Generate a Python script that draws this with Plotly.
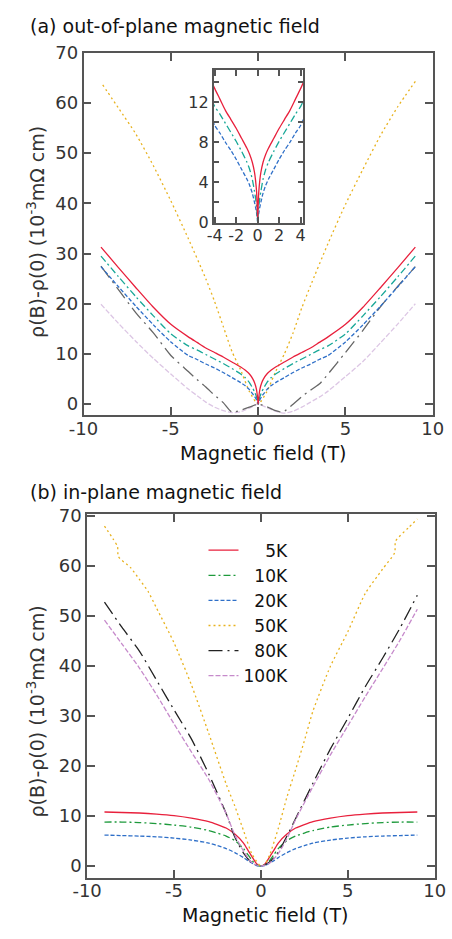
import plotly.graph_objects as go

# ---------------- Panel (a): out-of-plane field ----------------
B_a = [-9, -8, -7, -6, -5, -4, -3.5, -3, -2.5, -2, -1.5, -1, -0.75, -0.5, -0.3, -0.2, -0.1, -0.05, 0,
       0.05, 0.1, 0.2, 0.3, 0.5, 0.75, 1, 1.5, 2, 2.5, 3, 3.5, 4, 5, 6, 7, 8, 9]
a_5K = [31.3, 27.2, 23.2, 19.3, 15.9, 13.4, 12.3, 11.2, 10.3, 9.4, 8.4, 7.4, 6.8, 6.0, 5.0, 4.2, 3.0, 1.8, 0,
        1.8, 3.0, 4.2, 5.0, 6.0, 6.8, 7.4, 8.4, 9.4, 10.3, 11.2, 12.3, 13.4, 15.9, 19.3, 23.2, 27.2, 31.3]
a_10K = [29.5, 25.4, 21.4, 17.6, 14.0, 11.6, 10.8, 9.9, 9.0, 8.1, 7.1, 6.0, 5.3, 4.3, 3.1, 2.4, 1.5, 0.8, 0,
         0.8, 1.5, 2.4, 3.1, 4.3, 5.3, 6.0, 7.1, 8.1, 9.0, 9.9, 10.8, 11.6, 14.0, 17.6, 21.4, 25.4, 29.5]
a_20K = [27.4, 23.4, 19.5, 15.8, 12.4, 9.7, 8.9, 8.0, 7.2, 6.3, 5.3, 4.3, 3.7, 2.9, 2.0, 1.5, 0.9, 0.5, 0,
         0.5, 0.9, 1.5, 2.0, 2.9, 3.7, 4.3, 5.3, 6.3, 7.2, 8.0, 8.9, 9.7, 12.4, 15.8, 19.5, 23.4, 27.4]

B_a50 = [-8.9, -8, -7, -6, -5, -4, -3, -2.5, -2, -1.5, -1, -0.5, 0, 0.5, 1, 1.5, 2, 2.5, 3, 4, 5, 6, 7, 8, 9]
a_50K = [63.6, 59.0, 53.8, 47.5, 40.5, 33.0, 25.0, 20.5, 15.5, 10.5, 6.8, 2.5, 0,
         2.5, 6.5, 10.0, 14.2, 19.2, 23.6, 32.0, 39.8, 46.8, 53.5, 59.3, 64.3]

B_a80 = [-9, -8, -7, -6, -5, -4, -3.5, -3, -2.5, -2, -1.5, -1, -0.5, 0, 0.5, 1, 1.4, 2, 2.5, 3, 3.5, 4, 5, 6, 7, 8, 9]
a_80K = [27.5, 22.8, 18.2, 14.2, 9.7, 6.5, 4.9, 3.4, 1.8, 0.3, -1.6, -1.2, -0.6, 0,
         -0.5, -1.3, -1.6, 0.0, 1.5, 2.8, 4.0, 6.0, 10.3, 14.7, 19.4, 23.5, 27.4]

B_a100 = [-9, -8, -7, -6, -5, -4, -3.5, -3, -2.5, -2, -1.5, -1, -0.5, 0, 0.5, 1, 1.5, 2, 2.5, 3, 3.5, 4, 5, 6, 7, 8, 9]
a_100K = [19.9, 16.1, 12.5, 9.1, 6.0, 3.0, 1.7, 0.4, -0.6, -1.3, -1.7, -1.5, -0.8, 0,
          -0.7, -1.4, -1.8, -1.4, -0.6, 0.4, 1.4, 2.6, 5.5, 8.5, 12.2, 16.0, 20.0]

# ---------------- Panel (b): in-plane field ----------------
B_b = [-9, -8, -7, -6, -5, -4, -3, -2.5, -2, -1.5, -1, -0.75, -0.5, -0.25, 0,
       0.25, 0.5, 0.75, 1, 1.5, 2, 2.5, 3, 4, 5, 6, 7, 8, 9]
b_5K = [10.8, 10.7, 10.6, 10.4, 10.1, 9.6, 8.9, 8.3, 7.6, 6.4, 4.6, 3.2, 1.8, 0.5, 0,
        0.5, 1.8, 3.2, 4.6, 6.4, 7.6, 8.3, 8.9, 9.6, 10.1, 10.4, 10.6, 10.7, 10.8]
b_10K = [8.8, 8.8, 8.7, 8.5, 8.2, 7.8, 7.1, 6.6, 6.0, 5.1, 3.5, 2.3, 1.1, 0.2, 0,
         0.2, 1.1, 2.3, 3.5, 5.1, 6.0, 6.6, 7.1, 7.8, 8.2, 8.5, 8.7, 8.8, 8.8]
b_20K = [6.2, 6.1, 6.0, 5.85, 5.6, 5.2, 4.6, 4.1, 3.5, 2.7, 1.7, 1.1, 0.6, 0.1, 0,
         0.1, 0.6, 1.1, 1.7, 2.7, 3.5, 4.1, 4.6, 5.2, 5.6, 5.85, 6.0, 6.1, 6.2]

B_b50 = [-9, -8.5, -8.25, -8.2, -7.5, -7, -6.5, -6, -5, -4, -3, -2, -1.5, -1, -0.5, 0,
         0.25, 0.5, 1, 1.5, 2, 2.5, 3, 4, 5, 6, 7, 7.7, 7.75, 8.5, 9]
b_50K = [67.9, 65.3, 63.8, 61.8, 59.6, 57.3, 54.9, 51.5, 44.6, 36.2, 26.5, 16.4, 12.0, 7.1, 2.3, 0,
         0.5, 2.2, 7.5, 13.8, 19.3, 25.0, 31.0, 39.9, 46.8, 54.4, 59.3, 62.6, 64.9, 67.6, 69.3]

B_b80 = [-9, -8, -7, -6, -5, -4, -3, -2, -1.5, -1, -0.5, 0, 0.5, 1, 1.5, 2, 3, 4, 5, 6, 7, 8, 9]
b_80K = [52.7, 47.7, 43.0, 37.1, 31.2, 25.4, 18.4, 10.5, 5.8, 2.6, 0.6, 0,
         0.8, 2.8, 6.0, 9.5, 16.6, 23.4, 29.5, 35.8, 41.5, 47.5, 54.1]

B_b100 = [-9, -8, -7, -6, -5, -4, -3, -2, -1.5, -1, -0.5, 0, 0.5, 1, 1.5, 2, 3, 4, 5, 6, 7, 8, 9]
b_100K = [49.1, 44.4, 39.6, 34.2, 28.4, 22.8, 17.3, 10.5, 6.2, 3.0, 0.6, 0,
          0.6, 2.5, 5.5, 9.3, 15.9, 22.2, 28.0, 33.8, 39.4, 45.1, 51.3]

legend_names = ["\u2007\u20075K", "\u200710K", "\u200720K", "\u200750K", "\u200780K", "100K"]

x_ticks = [-10, -5, 0, 5, 10]
x_ticktext = ["-10", "-5", "0", "5", "10"]
y_ticks = [0, 10, 20, 30, 40, 50, 60, 70]
inset_x_ticks = [-4, -2, 0, 2, 4]
inset_x_text = ["-4", "-2", "0", "2", "4"]
inset_y_ticks = [0, 4, 8, 12]
inset_y_minor = [2, 6, 10, 14]

FONT = "DejaVu Sans"
W, H = 452, 939


def px(x):
    return x / W


def py(y):
    return 1 - y / H


fig = go.Figure()


def add(x, y, color, dash, xa, ya, name=None, legend=False, width=1.3):
    fig.add_trace(go.Scatter(x=x, y=y, mode="lines", xaxis=xa, yaxis=ya,
                             line=dict(color=color, dash=dash, width=width, shape="spline", smoothing=0.6),
                             name=name, showlegend=legend, hoverinfo="skip"))


RED = "#e8203c"
DASHDOT = "7px,3px,2px,3px"
DASH = "4px,2px"
DOT = "2px,3px"
LONGDD = "14px,5px,2px,5px"
DASH100 = "5px,2px"

# panel a
add(B_a50, a_50K, "#e8b21e", DOT, "x", "y")
add(B_a100, a_100K, "#dcc6e4", DASH100, "x", "y")
add(B_a80, a_80K, "#666666", LONGDD, "x", "y")
add(B_a, a_20K, "#2e6fc8", DASH, "x", "y")
add(B_a, a_10K, "#19a898", DASHDOT, "x", "y")
add(B_a, a_5K, RED, "solid", "x", "y")
# inset
add(B_a, a_20K, "#2e6fc8", DASH, "x3", "y3")
add(B_a, a_10K, "#19a898", DASHDOT, "x3", "y3")
add(B_a, a_5K, RED, "solid", "x3", "y3")
# panel b
add(B_b, b_5K, RED, "solid", "x2", "y2", legend_names[0], True)
add(B_b, b_10K, "#1e9a3c", DASHDOT, "x2", "y2", legend_names[1], True)
add(B_b, b_20K, "#2e6fc8", DASH, "x2", "y2", legend_names[2], True)
add(B_b50, b_50K, "#e8b21e", DOT, "x2", "y2", legend_names[3], True)
add(B_b80, b_80K, "#222222", LONGDD, "x2", "y2", legend_names[4], True)
add(B_b100, b_100K, "#c68acb", DASH100, "x2", "y2", legend_names[5], True)

axis_common = dict(showline=True, linecolor="#555555", linewidth=1.5, mirror="ticks",
                   ticks="inside", ticklen=8, tickwidth=1.5, tickcolor="#555555",
                   showgrid=False, zeroline=False, ticklabeloverflow="allow",
                   tickfont=dict(family=FONT, size=18, color="#333333"))
inset_common = dict(axis_common, ticklen=6, tickfont=dict(family=FONT, size=16, color="#333333"))

fig.update_layout(
    width=W, height=H,
    margin=dict(l=0, r=0, t=0, b=0),
    paper_bgcolor="white", plot_bgcolor="white",
    font=dict(family=FONT, color="#111111"),
    xaxis=dict(axis_common, domain=[px(72.7), px(443.3)], anchor="y", range=[-10, 10],
               tickvals=x_ticks, ticktext=x_ticktext, tickangle=0, ticklabelstandoff=-4),
    yaxis=dict(axis_common, domain=[py(413), py(42.7)], anchor="x", range=[-2.2, 70],
               tickvals=y_ticks),
    xaxis2=dict(axis_common, domain=[px(76.5), px(445.3)], anchor="y2", range=[-10, 10],
                tickvals=x_ticks, ticktext=x_ticktext, tickangle=0, ticklabelstandoff=-4),
    yaxis2=dict(axis_common, domain=[py(886), py(514)], anchor="x2", range=[-2.4, 70.3],
                tickvals=y_ticks),
    xaxis3=dict(inset_common, domain=[px(210.7), px(306)], anchor="y3", range=[-4.1, 4.25],
                tickvals=inset_x_ticks, ticktext=inset_x_text, tickangle=0, ticklabelstandoff=-3),
    yaxis3=dict(inset_common, domain=[py(216.7), py(60.7)], anchor="x3", range=[-0.1, 15.2],
                tickvals=inset_y_ticks,
                minor=dict(tickvals=inset_y_minor, ticks="inside", ticklen=6, tickwidth=1.5,
                           tickcolor="#555555", showgrid=False)),
    legend=dict(x=px(200), y=py(533), xanchor="left", yanchor="top",
                bgcolor="rgba(0,0,0,0)", font=dict(family=FONT, size=17, color="#111111"),
                tracegroupgap=0, itemwidth=30),
)

ann = [
    dict(text="(a) out-of-plane magnetic field", x=px(14), y=py(15), xanchor="left", yanchor="middle", size=19),
    dict(text="(b) in-plane magnetic field", x=px(14), y=py(491), xanchor="left", yanchor="middle", size=19),
    dict(text="Magnetic field (T)", x=px(263.5), y=py(452), xanchor="center", yanchor="middle", size=19),
    dict(text="Magnetic field (T)", x=px(266), y=py(924), xanchor="center", yanchor="middle", size=19),
]
for a in ann:
    fig.add_annotation(text=a["text"], x=a["x"], y=a["y"], xref="paper", yref="paper",
                       xanchor=a["xanchor"], yanchor=a["yanchor"], showarrow=False,
                       font=dict(family=FONT, size=a["size"], color="#111111"))

ytitle = "ρ(B)-ρ(0) (10<sup>-3</sup>mΩ cm)"
for yc in (226, 716):
    fig.add_annotation(text=ytitle, x=px(22), y=py(yc), xref="paper", yref="paper",
                       xanchor="center", yanchor="middle", textangle=-90, showarrow=False,
                       font=dict(family=FONT, size=19, color="#333333"))

fig.write_html("out.html")
